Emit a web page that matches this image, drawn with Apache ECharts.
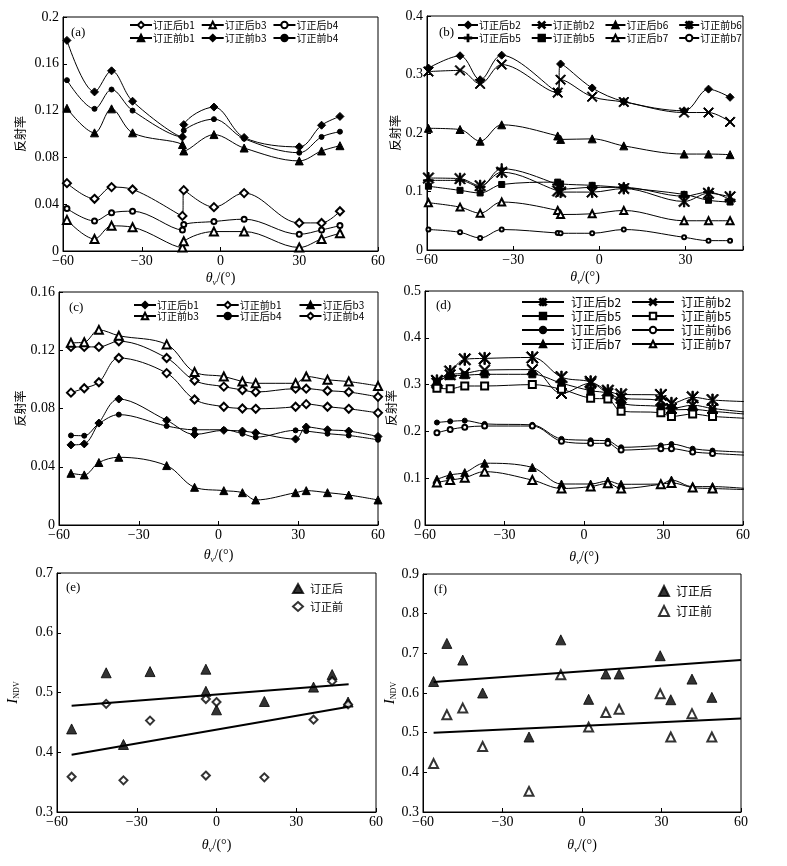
<!DOCTYPE html>
<html><head><meta charset="utf-8">
<script src="https://cdn.jsdelivr.net/npm/echarts@6/dist/echarts.min.js"></script>
<style>html,body{margin:0;padding:0;background:#fff}#c{width:787px;height:866px}</style>
</head><body><div id="c"></div>
<script>
// ---------- data (a) ----------
const xA = [-58.5, -48, -41.5, -33.5, -14.5, -14, -2.5, 9, 30, 38.5, 45.5];
const a_after_b1  = [0.058, 0.0446, 0.0546, 0.0526, 0.030, 0.052, 0.0375, 0.0495, 0.024, 0.024, 0.034];
const a_after_b3  = [0.0266, 0.0103, 0.0215, 0.0203, 0.003, 0.0083, 0.0166, 0.0166, 0.003, 0.0103, 0.0152];
const a_after_b4  = [0.0363, 0.0257, 0.0326, 0.034, 0.018, 0.0226, 0.0252, 0.0272, 0.0143, 0.018, 0.0217];
const a_before_b1 = [0.122, 0.101, 0.1215, 0.101, 0.091, 0.0855, 0.0995, 0.088, 0.077, 0.0855, 0.090];
const a_before_b3 = [0.180, 0.136, 0.154, 0.128, 0.0975, 0.108, 0.123, 0.097, 0.089, 0.1075, 0.115];
const a_before_b4 = [0.146, 0.1215, 0.138, 0.120, 0.0975, 0.103, 0.1127, 0.096, 0.084, 0.0975, 0.102];
// ---------- data (b) ----------
const xB = [-59.5, -48.5, -41.5, -34, -14.5, -13.5, -2.5, 8.5, 29.5, 38, 45.5];
const b_after_b2  = [0.311, 0.332, 0.291, 0.333, 0.271, 0.318, 0.277, 0.254, 0.238, 0.275, 0.261];
const b_before_b2 = [0.305, 0.307, 0.284, 0.317, 0.269, 0.291, 0.262, 0.253, 0.235, 0.235, 0.219];
const b_after_b6  = [0.208, 0.206, 0.186, 0.214, 0.195, 0.189, 0.190, 0.178, 0.164, 0.164, 0.163];
const b_before_b6 = [0.123, 0.122, 0.110, 0.133, 0.101, 0.099, 0.099, 0.105, 0.083, 0.097, 0.091];
const b_after_b5  = [0.119, 0.119, 0.108, 0.139, 0.112, 0.104, 0.107, 0.107, 0.092, 0.099, 0.086];
const b_before_b5 = [0.109, 0.102, 0.0975, 0.112, 0.116, 0.113, 0.1105, 0.1065, 0.095, 0.085, 0.082];
const b_after_b7  = [0.0808, 0.0733, 0.063, 0.082, 0.0676, 0.0607, 0.0619, 0.0676, 0.050, 0.050, 0.050];
const b_before_b7 = [0.035, 0.0303, 0.0206, 0.035, 0.029, 0.0286, 0.0286, 0.035, 0.0217, 0.016, 0.016];
// ---------- data (c) ----------
const xC = [-55.5, -50.5, -45, -37.5, -19.5, -9, 2, 9, 14, 29, 33, 41, 49, 60];
const c_after_b1  = [0.055, 0.0557, 0.070, 0.0865, 0.0719, 0.0622, 0.065, 0.0645, 0.0633, 0.059, 0.0673, 0.0654, 0.0645, 0.0608];
const c_before_b1 = [0.1223, 0.1223, 0.1223, 0.1262, 0.1147, 0.0992, 0.095, 0.0927, 0.0913, 0.0936, 0.0936, 0.0922, 0.0913, 0.088];
const c_after_b3  = [0.0355, 0.0344, 0.0429, 0.0465, 0.0408, 0.0259, 0.0236, 0.0222, 0.0172, 0.0222, 0.0236, 0.0222, 0.0206, 0.0172];
const c_before_b3 = [0.1251, 0.1255, 0.134, 0.130, 0.124, 0.105, 0.102, 0.0985, 0.0973, 0.0973, 0.102, 0.0997, 0.0985, 0.0955];
const c_after_b4  = [0.0615, 0.0613, 0.0696, 0.0758, 0.068, 0.0654, 0.0654, 0.0627, 0.0603, 0.065, 0.0645, 0.0627, 0.0615, 0.0585];
const c_before_b4 = [0.0909, 0.0939, 0.098, 0.1147, 0.1043, 0.0862, 0.0812, 0.080, 0.0798, 0.0812, 0.083, 0.0812, 0.0798, 0.077];
// ---------- data (d) ----------
const xD = [-55.5, -50.5, -45, -37.5, -19.5, -8.5, 2.5, 9, 14, 29, 33, 41, 48.5, 65];
const d_after_b2  = [0.308, 0.328, 0.354, 0.356, 0.358, 0.316, 0.306, 0.287, 0.279, 0.278, 0.260, 0.273, 0.267, 0.263];
const d_before_b2 = [0.303, 0.321, 0.324, 0.331, 0.332, 0.281, 0.303, 0.281, 0.271, 0.266, 0.249, 0.256, 0.249, 0.239];
const d_after_b5  = [0.306, 0.318, 0.320, 0.322, 0.322, 0.303, 0.287, 0.281, 0.260, 0.253, 0.246, 0.247, 0.243, 0.235];
const d_before_b5 = [0.292, 0.291, 0.297, 0.297, 0.300, 0.290, 0.271, 0.269, 0.243, 0.240, 0.232, 0.237, 0.232, 0.227];
const d_after_b6  = [0.219, 0.2215, 0.223, 0.216, 0.214, 0.184, 0.181, 0.180, 0.166, 0.170, 0.173, 0.163, 0.159, 0.1545];
const d_before_b6 = [0.197, 0.204, 0.209, 0.2115, 0.2115, 0.179, 0.1745, 0.1745, 0.160, 0.163, 0.163, 0.156, 0.153, 0.148];
const d_after_b7  = [0.0976, 0.107, 0.112, 0.132, 0.123, 0.0876, 0.0876, 0.094, 0.087, 0.0876, 0.096, 0.082, 0.082, 0.076];
const d_before_b7 = [0.091, 0.096, 0.101, 0.114, 0.096, 0.078, 0.082, 0.089, 0.078, 0.087, 0.090, 0.080, 0.078, 0.075];
// ---------- data (e) ----------
const xE = [-54.5, -41.5, -35, -25, -4, -4, 0, 18, 36.5, 43.5, 49.5];
const e_after  = [0.439, 0.533, 0.413, 0.535, 0.539, 0.502, 0.471, 0.485, 0.509, 0.530, 0.484];
const e_before = [0.359, 0.481, 0.353, 0.453, 0.361, 0.489, 0.484, 0.358, 0.4545, 0.519, 0.480];
const e_fitX = [-54.5, 49.7];
const e_fit_after  = [0.478, 0.514];
const e_fit_before = [0.396, 0.476];
// ---------- data (f) ----------
const xF = [-56, -51, -45, -37.5, -20, -8, 2.5, 9, 14, 29.5, 33.5, 41.5, 49];
const f_after  = [0.629, 0.725, 0.683, 0.600, 0.489, 0.734, 0.584, 0.648, 0.648, 0.694, 0.583, 0.635, 0.589];
const f_before = [0.422, 0.545, 0.562, 0.465, 0.352, 0.646, 0.514, 0.551, 0.559, 0.598, 0.489, 0.548, 0.489];
const f_fitX = [-56, 60];
const f_fit_after  = [0.628, 0.683];
const f_fit_before = [0.500, 0.536];
// ---------- axis ticks ----------
const xTicks = {min: -60, max: 60, interval: 30};
const yA = {min: 0, max: 0.2, interval: 0.04};
const yB = {min: 0, max: 0.4, interval: 0.1};
const yC = {min: 0, max: 0.16, interval: 0.04};
const yD = {min: 0, max: 0.5, interval: 0.1};
const yE = {min: 0.3, max: 0.7, interval: 0.1};
const yF = {min: 0.3, max: 0.9, interval: 0.1};

// ---------- symbols ----------
const S_X = 'path://M0,0.9L0.9,0L10,9.1L9.1,10ZM10,0.9L0.9,10L0,9.1L9.1,0Z';
const S_AST = 'path://M0,0.9L0.9,0L10,9.1L9.1,10ZM10,0.9L0.9,10L0,9.1L9.1,0ZM4.4,0H5.6V10H4.4Z';
const S_PLUS = 'path://M4.4,0H5.6V4.4H10V5.6H5.6V10H4.4V5.6H0V4.4H4.4Z';

const SERIF = '"Liberation Serif","Times New Roman",serif';
const CJK = '"Noto Sans CJK SC","Noto Sans",sans-serif';

const chart = echarts.init(document.getElementById('c'), null, {renderer: 'canvas'});

const grids = [
  {left: 63, top: 17, width: 315, height: 234},
  {left: 427, top: 16, width: 316, height: 234},
  {left: 59, top: 292, width: 319, height: 233},
  {left: 425, top: 291, width: 318, height: 234},
  {left: 57, top: 573, width: 319, height: 239},
  {left: 423, top: 574, width: 318, height: 238}
].map(g => Object.assign({show: true, borderColor: '#000', borderWidth: 1, backgroundColor: 'transparent'}, g));

function fmtNum(v) { return String(+v.toFixed(2)).replace('-', '\u2212'); }

function xAxis(i, gap, max) {
  return {
    type: 'value', gridIndex: i, min: xTicks.min, max: max === undefined ? xTicks.max : max, interval: xTicks.interval,
    name: '{t|\u03b8}{s|v}{n|/(\u00b0)}', nameLocation: 'middle', nameGap: gap,
    nameTextStyle: {rich: {
      t: {fontFamily: SERIF, fontStyle: 'italic', fontSize: 14, color: '#000'},
      s: {fontFamily: SERIF, fontStyle: 'italic', fontSize: 9, color: '#000', verticalAlign: 'bottom', padding: [8, 0, 0, 0]},
      n: {fontFamily: SERIF, fontSize: 14, color: '#000'}
    }},
    axisLine: {show: true, onZero: false, lineStyle: {color: '#000', width: 1}},
    axisTick: {show: true, inside: true, length: 4, lineStyle: {color: '#000'}},
    axisLabel: {color: '#000', fontFamily: SERIF, fontSize: 14, margin: 3,
      formatter: v => (v % 30 === 0 ? fmtNum(v) : '')},
    splitLine: {show: false}
  };
}
function yAxis(i, t, name, gap) {
  return {
    type: 'value', gridIndex: i, min: t.min, max: t.max, interval: t.interval,
    name: name, nameLocation: 'middle', nameGap: gap, nameRotate: 90,
    nameTextStyle: {color: '#000', fontFamily: CJK, fontSize: 12, rich: {
      i: {fontFamily: SERIF, fontStyle: 'italic', fontSize: 15, color: '#000'},
      s: {fontFamily: SERIF, fontSize: 8, color: '#000', verticalAlign: 'bottom', padding: [8, 0, 0, 0]}
    }},
    axisLine: {show: true, onZero: false, lineStyle: {color: '#000', width: 1}},
    axisTick: {show: true, inside: true, length: 4, lineStyle: {color: '#000'}},
    axisLabel: {color: '#000', fontFamily: SERIF, fontSize: 14, margin: 4, formatter: fmtNum},
    splitLine: {show: false}
  };
}

const xAxes = [xAxis(0, 19), xAxis(1, 19, 50), xAxis(2, 22), xAxis(3, 24), xAxis(4, 25), xAxis(5, 25)];
const yAxes = [
  yAxis(0, yA, '反射率', 37), yAxis(1, yB, '反射率', 24), yAxis(2, yC, '反射率', 33),
  yAxis(3, yD, '反射率', 28), yAxis(4, yE, '{i|I}{s|NDV}', 36), yAxis(5, yF, '{i|I}{s|NDV}', 22)
];

const series = [];
function line(panel, name, gi, xs, ys, sym, size, extra) {
  const data = xs.map((x, k) => [x, ys[k]]);
  const s = Object.assign({
    type: 'line', name: panel + ':' + name, xAxisIndex: gi, yAxisIndex: gi,
    data: data, smooth: 0.35, symbol: sym, symbolSize: size, showSymbol: true,
    lineStyle: {color: '#000', width: 1}, itemStyle: {color: '#000', borderColor: '#000', borderWidth: 1},
    emphasis: {disabled: true}, animation: false
  }, extra || {});
  series.push(s);
}
// (a)
line('a', '订正后b1', 0, xA, a_after_b1, 'emptyDiamond', 8);
line('a', '订正后b3', 0, xA, a_after_b3, 'emptyTriangle', 8);
line('a', '订正后b4', 0, xA, a_after_b4, 'emptyCircle', 5);
line('a', '订正前b1', 0, xA, a_before_b1, 'triangle', 8);
line('a', '订正前b3', 0, xA, a_before_b3, 'diamond', 8);
line('a', '订正前b4', 0, xA, a_before_b4, 'circle', 5);
// (b)
line('b', '订正后b2', 1, xB, b_after_b2, 'diamond', 8);
line('b', '订正前b2', 1, xB, b_before_b2, S_X, 10);
line('b', '订正后b6', 1, xB, b_after_b6, 'triangle', 8);
line('b', '订正前b6', 1, xB, b_before_b6, S_AST, 11);
line('b', '订正后b5', 1, xB, b_after_b5, S_PLUS, 10);
line('b', '订正前b5', 1, xB, b_before_b5, 'rect', 6);
line('b', '订正后b7', 1, xB, b_after_b7, 'emptyTriangle', 7);
line('b', '订正前b7', 1, xB, b_before_b7, 'emptyCircle', 4);
// (c)
line('c', '订正后b1', 2, xC, c_after_b1, 'diamond', 8);
line('c', '订正前b1', 2, xC, c_before_b1, 'emptyDiamond', 8);
line('c', '订正后b3', 2, xC, c_after_b3, 'triangle', 8);
line('c', '订正前b3', 2, xC, c_before_b3, 'emptyTriangle', 8);
line('c', '订正后b4', 2, xC, c_after_b4, 'circle', 5);
line('c', '订正前b4', 2, xC, c_before_b4, 'emptyDiamond', 8);
// (d)
const dExtra = {clip: false};
function dLine(name, ys, sym, size) {
  line('d', name, 3, xD, ys, sym, size, dExtra);
  const s = series[series.length - 1];
  s.data = s.data.map((p, k) => k === s.data.length - 1 ? {value: p, symbol: 'none'} : p);
}
dLine('订正后b2', d_after_b2, S_AST, 12);
dLine('订正前b2', d_before_b2, S_X, 11);
dLine('订正后b5', d_after_b5, 'rect', 7);
dLine('订正前b5', d_before_b5, 'emptyRect', 7);
dLine('订正后b6', d_after_b6, 'circle', 5);
dLine('订正前b6', d_before_b6, 'emptyCircle', 5);
dLine('订正后b7', d_after_b7, 'triangle', 8);
dLine('订正前b7', d_before_b7, 'emptyTriangle', 8);
// (e), (f) scatter + fit lines
function scat(panel, name, gi, xs, ys, sym, size) {
  series.push({type: 'scatter', name: panel + ':' + name, xAxisIndex: gi, yAxisIndex: gi,
    data: xs.map((x, k) => [x, ys[k]]), symbol: sym, symbolSize: size,
    itemStyle: {color: '#000', borderColor: '#000', borderWidth: 1}, emphasis: {disabled: true}, animation: false});
}
function fit(gi, xs, ys) {
  series.push({type: 'line', xAxisIndex: gi, yAxisIndex: gi, data: xs.map((x, k) => [x, ys[k]]),
    symbol: 'none', lineStyle: {color: '#000', width: 2}, emphasis: {disabled: true}, animation: false, silent: true});
}
scat('e', '订正后', 4, xE, e_after, 'triangle', 10);
scat('e', '订正前', 4, xE, e_before, 'emptyDiamond', 8);
fit(4, e_fitX, e_fit_after);
fit(4, e_fitX, e_fit_before);
scat('f', '订正后', 5, xF, f_after, 'triangle', 10);
scat('f', '订正前', 5, xF, f_before, 'emptyTriangle', 9);
fit(5, f_fitX, f_fit_after);
fit(5, f_fitX, f_fit_before);

function legend(names, left, top, opts) {
  return Object.assign({
    data: names, left: left, top: top, orient: 'horizontal', padding: 0,
    itemWidth: 22, itemHeight: 8, itemGap: 4, selectedMode: false,
    formatter: n => n.slice(2),
    textStyle: {fontFamily: CJK, fontSize: 10, color: '#000', padding: [0, 0, 0, -4]}
  }, opts || {});
}
const legends = [
  legend(['a:订正后b1', 'a:订正后b3', 'a:订正后b4'], 129, 20, {itemGap: 6}),
  legend(['a:订正前b1', 'a:订正前b3', 'a:订正前b4'], 129, 33, {itemGap: 6}),
  legend(['b:订正后b2', 'b:订正前b2', 'b:订正后b6', 'b:订正前b6'], 457, 20, {itemWidth: 20, itemGap: 10}),
  legend(['b:订正后b5', 'b:订正前b5', 'b:订正后b7', 'b:订正前b7'], 457, 33, {itemWidth: 20, itemGap: 10}),
  legend(['c:订正后b1', 'c:订正前b1', 'c:订正后b3'], 133, 300, {itemGap: 17}),
  legend(['c:订正前b3', 'c:订正后b4', 'c:订正前b4'], 133, 311, {itemGap: 17}),
  legend(['d:订正后b2', 'd:订正后b5', 'd:订正后b6', 'd:订正后b7'], 521, 295,
    {orient: 'vertical', itemWidth: 42, itemGap: 0, textStyle: {fontFamily: CJK, fontSize: 12, color: '#000', lineHeight: 14, padding: [0, 0, 0, 2]}}),
  legend(['d:订正前b2', 'd:订正前b5', 'd:订正前b6', 'd:订正前b7'], 631, 295,
    {orient: 'vertical', itemWidth: 42, itemGap: 0, textStyle: {fontFamily: CJK, fontSize: 12, color: '#000', lineHeight: 14, padding: [0, 0, 0, 2]}}),
  legend(['e:订正后', 'e:订正前'], 292, 583,
    {orient: 'vertical', itemWidth: 10, itemHeight: 9, itemGap: 7, textStyle: {fontFamily: CJK, fontSize: 11, color: '#000', padding: [0, 0, 0, 2]}}),
  legend(['f:订正后', 'f:订正前'], 658, 585,
    {orient: 'vertical', itemWidth: 10, itemHeight: 10, itemGap: 8, textStyle: {fontFamily: CJK, fontSize: 12, color: '#000', padding: [0, 0, 0, 2]}})
];

const labels = [['(a)', 71, 26], ['(b)', 439, 26], ['(c)', 69, 301], ['(d)', 436, 299], ['(e)', 66, 581], ['(f)', 434, 583]];
const graphic = labels.map(l => ({type: 'text', left: l[1], top: l[2],
  style: {text: l[0], font: '13px ' + SERIF, fill: '#000'}, silent: true}));

chart.setOption({
  animation: false,
  backgroundColor: '#fff',
  grid: grids,
  xAxis: xAxes,
  yAxis: yAxes,
  legend: legends,
  graphic: graphic,
  series: series
});
</script>
</body></html>
